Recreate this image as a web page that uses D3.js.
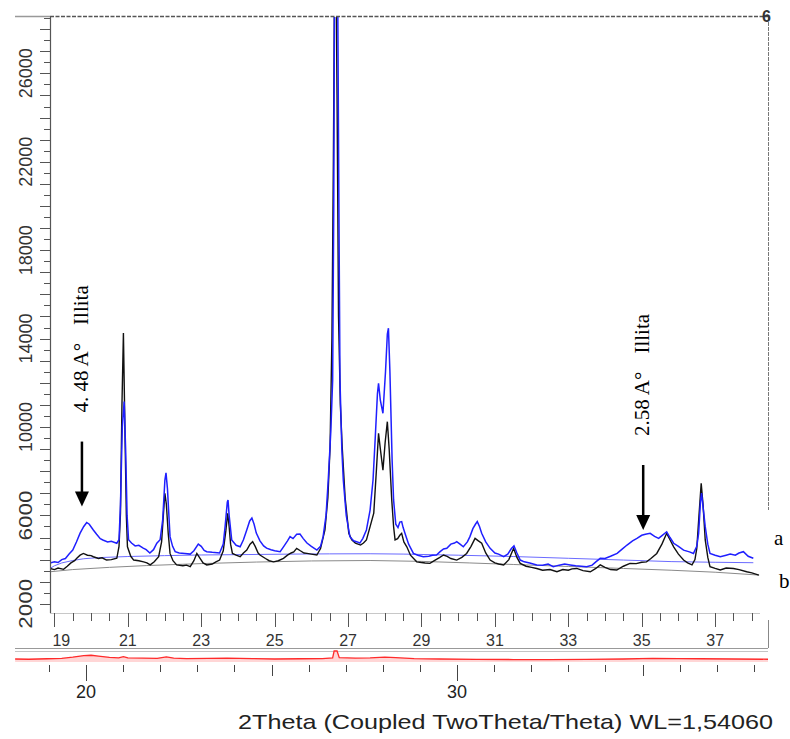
<!DOCTYPE html>
<html>
<head>
<meta charset="utf-8">
<script src="https://cdn.jsdelivr.net/npm/d3@7"></script>
<style>
  html, body { margin: 0; padding: 0; background: #fff; }
  svg { display: block; }
</style>
</head>
<body>
<div id="chart"></div>
<script>
const W = 790, H = 739;

// [2theta, counts]
const sampleA = [
  [18.88,3850],[19.0,3900],[19.1,3870],[19.2,4000],[19.3,4050],[19.4,4250],[19.5,4430],[19.6,4800],[19.7,5200],[19.8,5500],
  [19.88,5680],[19.95,5600],[20.06,5340],[20.15,5150],[20.25,4950],[20.32,4890],[20.45,4800],[20.55,4830],[20.7,4740],[20.76,4900],
  [20.8,6500],[20.85,10000],[20.9,11150],[20.94,9000],[20.98,6000],[21.02,4900],[21.1,4750],[21.2,4620],[21.3,4650],[21.42,4520],
  [21.5,4450],[21.6,4300],[21.7,4450],[21.79,4740],[21.88,4900],[21.95,5800],[22.01,7600],[22.04,7930],[22.08,7200],[22.15,5040],
  [22.22,4600],[22.29,4360],[22.4,4300],[22.55,4280],[22.7,4250],[22.8,4400],[22.92,4700],[23.0,4600],[23.08,4420],[23.15,4360],
  [23.3,4330],[23.5,4300],[23.6,4700],[23.65,5490],[23.71,6600],[23.73,6700],[23.76,6000],[23.83,4890],[23.95,4650],[24.06,4580],
  [24.15,4900],[24.24,5340],[24.32,5750],[24.38,5880],[24.44,5600],[24.5,5200],[24.6,4850],[24.7,4620],[24.78,4520],[24.9,4450],
  [25.0,4400],[25.15,4360],[25.25,4600],[25.35,4850],[25.42,5040],[25.5,4950],[25.6,5150],[25.69,5160],[25.78,4950],[25.88,4750],
  [26.0,4600],[26.15,4430],[26.25,4600],[26.32,5040],[26.4,6000],[26.46,7600],[26.53,9800],[26.58,12100],[26.61,20000],[26.63,29500],
  [26.68,31000],[26.72,29000],[26.75,20000],[26.78,12100],[26.83,9000],[26.87,7600],[26.95,6000],[27.05,5040],[27.15,4850],[27.25,4800],
  [27.32,4750],[27.4,4950],[27.5,5340],[27.6,6240],[27.68,7600],[27.74,9500],[27.8,11500],[27.83,11980],[27.88,11200],[27.95,10620],
  [28.02,12500],[28.07,14200],[28.1,14470],[28.14,12500],[28.2,8500],[28.24,6700],[28.3,5600],[28.36,5450],[28.41,5700],[28.46,5720],
  [28.5,5450],[28.55,5190],[28.65,4700],[28.78,4280],[28.9,4200],[29.05,4130],[29.2,4150],[29.3,4200],[29.41,4210],[29.5,4350],
  [29.6,4480],[29.69,4510],[29.8,4700],[29.9,4750],[29.96,4810],[30.05,4700],[30.14,4580],[30.25,4800],[30.32,5040],[30.4,5400],
  [30.47,5600],[30.52,5720],[30.58,5500],[30.64,5190],[30.75,4800],[30.87,4510],[31.0,4300],[31.1,4250],[31.24,4130],[31.35,4250],
  [31.45,4500],[31.52,4620],[31.6,4300],[31.69,3980],[31.8,3900],[31.95,3850],[32.14,3760],[32.3,3750],[32.45,3800],[32.59,3680],
  [32.75,3750],[32.9,3800],[33.05,3760],[33.2,3720],[33.35,3700],[33.5,3680],[33.65,3750],[33.75,3900],[33.87,4060],[34.0,4050],
  [34.15,4150],[34.33,4280],[34.45,4450],[34.6,4660],[34.75,4850],[34.87,4960],[35.0,5100],[35.1,5150],[35.23,5190],[35.35,5050],
  [35.46,4960],[35.56,5100],[35.68,5260],[35.77,5000],[35.87,4740],[36.0,4600],[36.14,4430],[36.3,4350],[36.41,4280],[36.5,4600],
  [36.55,5190],[36.6,6600],[36.63,7010],[36.67,6400],[36.73,5490],[36.8,4700],[36.86,4280],[37.0,4200],[37.14,4130],[37.3,4200],
  [37.41,4250],[37.55,4200],[37.65,4300],[37.77,4360],[37.9,4150],[38.04,4060]
];
const sampleB = [
  [18.88,3600],[19.0,3550],[19.1,3620],[19.25,3560],[19.35,3700],[19.45,3850],[19.55,3950],[19.61,4060],[19.7,4200],[19.79,4280],
  [19.9,4200],[20.0,4180],[20.06,4130],[20.2,4050],[20.3,4080],[20.42,3980],[20.55,4000],[20.7,4060],[20.76,4600],[20.8,6100],
  [20.84,11000],[20.88,14250],[20.92,10000],[20.96,6000],[20.99,4580],[21.08,4150],[21.16,3980],[21.3,3950],[21.43,3900],[21.52,3850],
  [21.61,3760],[21.72,3900],[21.84,4130],[21.92,4800],[21.98,6300],[22.01,7000],[22.05,6500],[22.1,5200],[22.15,4280],[22.23,3950],
  [22.33,3760],[22.5,3720],[22.6,3750],[22.7,3680],[22.8,3950],[22.88,4280],[22.95,4100],[23.05,3850],[23.15,3760],[23.3,3800],
  [23.4,3900],[23.5,3980],[23.6,4400],[23.67,5300],[23.72,6100],[23.76,5500],[23.8,4700],[23.85,4280],[23.95,4200],[24.06,4130],
  [24.15,4300],[24.24,4430],[24.33,4700],[24.4,4810],[24.47,4600],[24.55,4300],[24.6,4210],[24.75,4050],[24.85,3950],[24.97,3900],
  [25.1,3950],[25.24,4060],[25.35,4200],[25.45,4300],[25.52,4350],[25.6,4510],[25.7,4400],[25.8,4300],[25.88,4280],[26.0,4250],
  [26.15,4210],[26.25,4500],[26.37,5340],[26.45,6800],[26.51,9110],[26.56,14000],[26.6,22000],[26.63,30000],[26.67,31000],[26.7,25000],
  [26.74,15000],[26.79,11000],[26.84,9110],[26.92,6800],[27.02,5190],[27.1,4900],[27.2,4750],[27.34,4660],[27.42,4750],[27.5,4890],
  [27.6,5490],[27.7,6100],[27.77,8000],[27.83,9710],[27.88,9000],[27.95,8050],[28.01,9300],[28.07,10240],[28.12,9000],[28.19,6700],
  [28.24,5500],[28.28,4890],[28.35,4950],[28.41,5100],[28.46,5190],[28.52,4800],[28.6,4580],[28.7,4200],[28.87,3900],[29.0,3870],
  [29.1,3850],[29.23,3830],[29.35,3950],[29.5,4100],[29.6,4210],[29.7,4150],[29.8,4050],[29.96,3980],[30.1,4100],[30.23,4280],
  [30.35,4600],[30.46,4960],[30.55,4850],[30.64,4740],[30.75,4300],[30.87,3980],[31.0,3850],[31.1,3800],[31.24,3760],[31.38,4000],
  [31.51,4510],[31.6,4100],[31.69,3830],[31.85,3700],[32.0,3650],[32.14,3600],[32.3,3520],[32.5,3550],[32.69,3450],[32.85,3550],
  [33.0,3520],[33.1,3580],[33.23,3600],[33.4,3500],[33.6,3450],[33.75,3600],[33.87,3760],[34.0,3650],[34.15,3550],[34.32,3530],
  [34.5,3700],[34.68,3830],[34.85,3820],[35.0,3880],[35.13,3900],[35.25,4050],[35.41,4280],[35.55,4700],[35.68,5190],[35.77,4900],
  [35.87,4580],[36.0,4250],[36.14,3980],[36.25,3850],[36.37,3760],[36.45,4000],[36.5,4510],[36.56,6000],[36.62,7450],[36.67,6500],
  [36.73,4890],[36.8,4100],[36.86,3680],[37.0,3600],[37.14,3530],[37.3,3620],[37.5,3600],[37.65,3550],[37.86,3450],[38.0,3400],
  [38.19,3300]
];
const backgroundA = [
  [18.88,3600],[19.0,3720],[19.2,3850],[19.5,3960],[19.8,4040],[20.2,4090],[21,4140],[22,4180],[23,4210],[24.3,4230],
  [25.5,4250],[26.5,4260],[27.6,4265],[28.5,4250],[30,4200],[31.5,4140],[33,4060],[34.5,3980],[35.8,3910],[37,3880],[38.04,3860]
];
const backgroundB = [
  [18.88,3450],[19.5,3550],[20.5,3650],[21.5,3730],[23,3820],[24.5,3890],[26,3940],[27.6,3960],[29,3920],[30.3,3850],
  [31.5,3780],[33,3690],[34.5,3600],[35.8,3520],[37,3430],[38.2,3300]
];
// difference trace in the strip under the axis
const difference = [
  [17.93,0],[18.3,-100],[18.8,100],[19.2,200],[19.5,700],[19.8,1300],[20.0,1400],[20.2,1100],[20.5,600],[20.75,400],
  [20.88,900],[21.0,400],[21.4,300],[21.8,250],[22.05,800],[22.25,300],[22.6,150],[23.2,250],[23.7,300],[24.4,150],
  [25,0],[25.7,100],[26.3,150],[26.58,400],[26.62,3000],[26.7,3000],[26.76,500],[27.2,300],[27.6,400],[28.0,700],
  [28.3,500],[28.8,150],[29.5,0],[30.5,-150],[31.5,-200],[32.5,-200],[33.5,-150],[34.5,0],[35.3,200],[36,150],
  [36.6,100],[37.5,0],[38.44,-100]
];

const yLabels = [2000, 6000, 10000, 14000, 18000, 22000, 26000];
const xLabels = [19, 21, 23, 25, 27, 29, 31, 33, 35, 37];
const lowerLabels = [20, 30];
const peaks = [
  { theta: 19.75, tip: 6400, text: "4. 48 A°", phase: "Illita" },
  { theta: 35.04, tip: 5340, text: "2.58 A°", phase: "Illita" }
];
const seriesTags = [{ tag: "a", level: 4660 }, { tag: "b", level: 2720 }];

const x = d3.scaleLinear().domain([18.88, 38.44]).range([50, 768]);
const y = d3.scaleLinear().domain([1630, 28550]).range([612, 17]);
const xLow = d3.scaleLinear().domain([20, 30]).range([86, 457]);
const yDiff = d3.scaleLinear().domain([0, 3000]).range([659, 651]);

const svg = d3.select("#chart").append("svg")
    .attr("width", W)
    .attr("height", H)
    .style("font-family", "'Liberation Sans', Arial, sans-serif");

svg.append("clipPath").attr("id", "plot")
    .append("rect")
    .attr("x", 50).attr("y", 17)
    .attr("width", 718).attr("height", 595);

const line = d3.line().x(d => x(d[0])).y(d => y(d[1]));
const plot = svg.append("g").attr("clip-path", "url(#plot)");

plot.append("path").datum(backgroundB)
    .attr("d", line).attr("fill", "none")
    .attr("stroke", "#8a8a8a").attr("stroke-width", 1);
plot.append("path").datum(backgroundA)
    .attr("d", line).attr("fill", "none")
    .attr("stroke", "#6b6bff").attr("stroke-width", 1);
plot.append("path").datum(sampleB)
    .attr("d", line).attr("fill", "none")
    .attr("stroke", "#111").attr("stroke-width", 1.4);
plot.append("path").datum(sampleA)
    .attr("d", line).attr("fill", "none")
    .attr("stroke", "#1f1fff").attr("stroke-width", 1.5);

//frame: solid stub on the left, dashed top and right
svg.append("line")
    .attr("x1", 15).attr("x2", 50).attr("y1", 16.5).attr("y2", 16.5)
    .attr("stroke", "#999").attr("stroke-width", 1.5);
svg.append("line")
    .attr("x1", 50).attr("x2", 768).attr("y1", 16.5).attr("y2", 16.5)
    .attr("stroke", "#555").attr("stroke-width", 1.5)
    .attr("stroke-dasharray", "4,1.5");
svg.append("line")
    .attr("x1", 768.5).attr("x2", 768.5).attr("y1", 17).attr("y2", 510)
    .attr("stroke", "#777").attr("stroke-width", 1)
    .attr("stroke-dasharray", "4,1");
svg.append("text")
    .attr("x", 762).attr("y", 22)
    .attr("font-size", 16).attr("font-weight", "bold").attr("fill", "#333")
    .text("6");

//y axis
svg.append("line")
    .attr("x1", 50.5).attr("x2", 50.5).attr("y1", 17).attr("y2", 613)
    .attr("stroke", "#555").attr("stroke-width", 1.2);
svg.append("g").selectAll("line")
    .data(d3.range(2000, 28501, 500))
    .join("line")
    .attr("x1", d => (d % 1000 === 0 ? 40 : 44))
    .attr("x2", 50)
    .attr("y1", d => Math.round(y(d)) + 0.5)
    .attr("y2", d => Math.round(y(d)) + 0.5)
    .attr("stroke", "#555");
svg.append("g").selectAll("text")
    .data(yLabels)
    .join("text")
    .attr("transform", d => `translate(32,${y(d)})rotate(-90)`)
    .attr("text-anchor", "middle")
    .attr("font-size", 19)
    .attr("textLength", 50)
    .attr("lengthAdjust", "spacingAndGlyphs")
    .attr("fill", "#333")
    .text(d => d);

//x axis
svg.append("line")
    .attr("x1", 50).attr("x2", 760).attr("y1", 613.5).attr("y2", 613.5)
    .attr("stroke", "#c8c8c8");
svg.append("g").selectAll("line")
    .data(d3.range(19, 38.01, 0.5))
    .join("line")
    .attr("x1", d => Math.round(x(d)) + 0.5)
    .attr("x2", d => Math.round(x(d)) + 0.5)
    .attr("y1", 613)
    .attr("y2", d => (d % 2 === 1 ? 627 : 621))
    .attr("stroke", "#555");
svg.append("g").selectAll("text")
    .data(xLabels)
    .join("text")
    .attr("x", (d, i) => (i === 0 ? x(d) - 2 : x(d)))
    .attr("y", 646)
    .attr("text-anchor", (d, i) => (i === 0 ? "start" : "middle"))
    .attr("font-size", 16)
    .attr("fill", "#333")
    .text(d => d);
svg.append("line")
    .attr("x1", 768.5).attr("x2", 768.5).attr("y1", 620).attr("y2", 648)
    .attr("stroke", "#888");

//difference strip
svg.append("line")
    .attr("x1", 15).attr("x2", 768).attr("y1", 648.5).attr("y2", 648.5)
    .attr("stroke", "#999");
svg.append("line")
    .attr("x1", 15).attr("x2", 768).attr("y1", 651.5).attr("y2", 651.5)
    .attr("stroke", "#c4c4c4");
svg.append("path").datum(difference)
    .attr("d", d3.area().x(d => x(d[0])).y0(yDiff(0) + 3).y1(d => yDiff(d[1])))
    .attr("fill", "#ffd6d6");
svg.append("path").datum(difference)
    .attr("d", d3.line().x(d => x(d[0])).y(d => yDiff(d[1])))
    .attr("fill", "none")
    .attr("stroke", "#ff2a2a").attr("stroke-width", 1.3);

//lower 2theta axis
svg.append("g").selectAll("line")
    .data(d3.range(19, 39))
    .join("line")
    .attr("x1", d => Math.round(xLow(d)) + 0.5)
    .attr("x2", d => Math.round(xLow(d)) + 0.5)
    .attr("y1", 665)
    .attr("y2", d => (d % 10 === 0 ? 681 : d % 5 === 0 ? 676 : 672))
    .attr("stroke", "#444");
svg.append("g").selectAll("text")
    .data(lowerLabels)
    .join("text")
    .attr("x", d => xLow(d))
    .attr("y", 698)
    .attr("text-anchor", "middle")
    .attr("font-size", 18)
    .attr("fill", "#222")
    .text(d => d);
svg.append("text")
    .attr("x", 238).attr("y", 729)
    .attr("font-size", 21)
    .attr("textLength", 535)
    .attr("lengthAdjust", "spacingAndGlyphs")
    .attr("fill", "#222")
    .text("2Theta (Coupled TwoTheta/Theta) WL=1,54060");

//peak markers
const marks = svg.append("g")
    .style("font-family", "'Liberation Serif', 'Times New Roman', serif");
peaks.forEach(p => {
    const px = x(p.theta);
    const tip = y(p.tip);
    marks.append("line")
        .attr("x1", px).attr("x2", px)
        .attr("y1", tip - 65).attr("y2", tip - 12)
        .attr("stroke", "#000").attr("stroke-width", 2.5);
    marks.append("path")
        .attr("d", `M${px - 7},${tip - 15}L${px + 7},${tip - 15}L${px},${tip}Z`)
        .attr("fill", "#000");
    marks.append("text")
        .attr("transform", `translate(${px + 6},${tip - 94})rotate(-90)`)
        .attr("font-size", 21)
        .style("white-space", "pre")
        .text(p.text)
        .append("tspan")
        .attr("dx", 18)
        .text(p.phase);
});
marks.selectAll(".tag")
    .data(seriesTags)
    .join("text")
    .attr("class", "tag")
    .attr("x", (d, i) => 774 + i * 5)
    .attr("y", d => y(d.level))
    .attr("font-size", 21)
    .text(d => d.tag);
</script>
</body>
</html>
